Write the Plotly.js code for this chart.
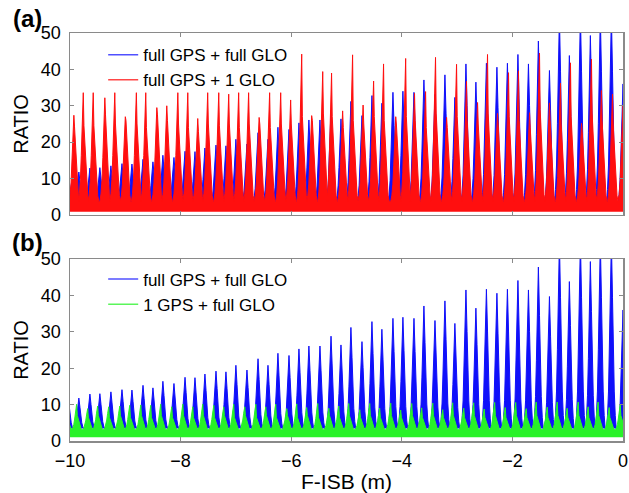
<!DOCTYPE html>
<html>
<head>
<meta charset="utf-8">
<script src="https://cdn.plot.ly/plotly-3.0.1.min.js"></script>
<style>html,body{margin:0;padding:0;background:#fff;}#chart{width:629px;height:493px;}</style>
</head>
<body>
<div id="chart"></div>
<script>
// ---- data ----
const seriesNames = ["full GPS + full GLO", "full GPS + 1 GLO", "1 GPS + full GLO"];
const xTickVals = [-10, -8, -6, -4, -2, 0];
const yTickVals = [0, 10, 20, 30, 40, 50];

// peak positions (F-ISB, m) and peak RATIO for "full GPS + full GLO"
const blueX = [-10.03,
 -9.84,-9.64,-9.46,-9.26,-9.06,-8.88,-8.68,-8.50,-8.32,-8.12,
 -7.92,-7.74,-7.56,-7.36,-7.18,-7.00,-6.80,-6.60,-6.42,-6.24,
 -6.04,-5.86,-5.68,-5.48,-5.28,-5.10,-4.92,-4.72,-4.54,-4.36,
 -4.16,-3.98,-3.78,-3.60,-3.40,-3.22,-3.04,-2.84,-2.66,-2.47,
 -2.28,-2.09,-1.90,-1.71,-1.53,-1.33,-1.15,-0.97,-0.77,-0.59,
 -0.41,-0.21, 0.0];
const blueY = [11.5,
 11.8,12.9,13.0,13.5,14.1,14.0,15.3,14.6,16.4,15.8,
 17.5,17.4,18.4,19.2,19.0,20.8,19.5,22.6,20.8,24.1,
 23.5,25.3,26.1,26.1,28.8,26.4,31.2,27.3,32.8,30.7,
 33.7,34.0,33.7,37.1,33.1,38.5,32.3,41.5,36.5,41.7,
 40.6,41.7,44.1,41.5,47.8,39.7,55,43.8,55,49.3,
 55,55, 36];

// peak positions and peak / shoulder RATIO for "full GPS + 1 GLO"
const redX = [-9.93,
 -9.76,-9.58,-9.37,-9.19,-9.00,-8.80,-8.63,-8.43,-8.25,-8.05,
 -7.87,-7.69,-7.51,-7.31,-7.13,-6.95,-6.77,-6.58,-6.39,-6.19,
 -6.01,-5.81,-5.63,-5.43,-5.27,-5.07,-4.89,-4.70,-4.51,-4.33,
 -4.11,-3.93,-3.77,-3.57,-3.39,-3.19,-3.01,-2.83,-2.63,-2.45,
 -2.27,-2.07,-1.89,-1.69,-1.51,-1.33,-1.13,-0.95,-0.75,-0.57,
 -0.39,-0.19, 0.0];
const redY = [27.4,
 33.6,33.6,32.2,33.6,27.0,33.6,33.6,29.5,30.0,33.6,
 33.6,26.5,33.6,33.6,33.2,33.6,33.6,26.8,33.6,33.6,
 31.6,44.2,27.3,39.4,39.0,28.6,44.0,30.2,36.8,41.5,
 27.0,43.0,33.4,33.9,43.3,26.8,41.4,36.7,30.9,44.1,
 27.9,39.1,39.6,28.1,44.5,30.8,36.2,41.8,25.2,42.8,
 34.2,33.2, 30];
const redShoulder = [24.2,
 24.5,24.5,27.5,25,26,25,24,27.5,26,25,
 24,23,25,24.5,25,24,25,25,24,25,
 25,27,26,28,27,24,26,25,27,26,
 25,27,26,24,28,24,27,26,25,28,
 25,27,26,24,29,26,25,27,23,28,
 26,25, 26];

// peak positions and peak / shoulder RATIO for "1 GPS + full GLO"
const greenX = [-10.06,
 -9.88,-9.68,-9.50,-9.30,-9.10,-8.92,-8.72,-8.54,-8.36,-8.16,
 -7.96,-7.78,-7.60,-7.40,-7.22,-7.04,-6.84,-6.64,-6.46,-6.28,
 -6.08,-5.90,-5.72,-5.52,-5.32,-5.14,-4.96,-4.76,-4.58,-4.40,
 -4.20,-4.02,-3.82,-3.64,-3.44,-3.26,-3.08,-2.88,-2.70,-2.51,
 -2.32,-2.13,-1.94,-1.75,-1.57,-1.37,-1.19,-1.01,-0.81,-0.63,
 -0.45,-0.25,-0.05];
const greenY = [8,
 10.1,8.9,9.6,9.4,9.6,9.8,9.9,9.8,10.1,9.4,
 10.1,9.4,10.1,9.8,9.4,10.1,9.4,10.1,9.4,10.1,
 8.9,10.2,9.2,10.3,9.0,9.6,10.3,8.6,10.3,9.0,
 10.4,8.5,10.3,9.1,10.4,8.6,10.5,9.0,10.5,8.8,
 10.6,9.2,10.6,8.9,10.7,9.3,10.7,9.0,10.7,9.4,
 10.7,9.2, 10.0];
const greenShoulder = [6,
 7,6.5,7,6.5,7,6.5,7,6.5,7,6.5,
 7,6.5,7,6.5,7,6.5,7,6.5,7,6.5,
 7,6.5,7,6.5,7,6.5,7,6.5,7,6.5,
 7,6.5,7,6.5,7,6.5,7,6.5,7,6.5,
 7,6.5,7,6.5,7,6.5,7,6.5,7,6.5,
 7,6.5, 7];

// floor levels of the dense noise bands
const redFloor = 0.9, redValley = 3.8;
const blueValley = 3.4;
const greenFloor = 1.0, greenValley = 3.1;

// ---- drawing helpers (shape of one spike) ----
const flank = [[0.088,0],[0.07,0.07],[0.052,0.2],[0.036,0.42],[0.02,0.7]];
function spikes(xs, peaks, shoulders, valley) {
  const X = [], Y = [];
  for (let i = 0; i < xs.length; i++) {
    const c = xs[i], m = peaks[i];
    const s = shoulders ? shoulders[i] : m;
    for (const [o, f] of flank) { X.push(c - o); Y.push(valley + f * (m - valley)); }
    X.push(c); Y.push(m);
    let c2 = c;
    if (shoulders) { c2 = c + 0.012; X.push(c2); Y.push(s); }
    for (let k = flank.length - 1; k >= 0; k--) {
      const [o, f] = flank[k];
      X.push(c2 + o); Y.push(valley + f * (s - valley));
    }
  }
  return {X, Y};
}

const BLUE = 'rgb(15,15,250)', RED = 'rgb(255,15,15)', GREEN = 'rgb(40,242,40)';
const bA = spikes(blueX, blueY, null, blueValley);
const rA = spikes(redX, redY, redShoulder, redValley);
const gB = spikes(greenX, greenY, greenShoulder, greenValley);

function floorTrace(level, xa, ya) {
  return {x: [xTickVals[0], xTickVals[xTickVals.length - 1]], y: [level, level], xaxis: xa, yaxis: ya,
    mode: 'lines', line: {width: 0}, hoverinfo: 'skip', showlegend: false};
}
function fillTrace(d, color, xa, ya) {
  return {x: d.X, y: d.Y, xaxis: xa, yaxis: ya, mode: 'lines', fill: 'tonexty', fillcolor: color,
    line: {color: color, width: 1}, hoverinfo: 'skip', showlegend: false};
}
function legendTrace(name, color, xa, ya, lg, grp) {
  return {x: [null], y: [null], xaxis: xa, yaxis: ya, mode: 'lines', name: name,
    line: {color: color, width: 1.5}, legend: lg, legendgroup: grp, showlegend: true};
}

const data = [
  floorTrace(blueValley, 'x', 'y'),
  fillTrace(bA, BLUE, 'x', 'y'),
  floorTrace(redFloor, 'x', 'y'),
  fillTrace(rA, RED, 'x', 'y'),
  floorTrace(blueValley, 'x2', 'y2'),
  fillTrace(bA, BLUE, 'x2', 'y2'),
  floorTrace(greenFloor, 'x2', 'y2'),
  fillTrace(gB, GREEN, 'x2', 'y2'),
  legendTrace(seriesNames[0], 'rgb(80,80,255)', 'x', 'y', 'legend', 'a1'),
  legendTrace(seriesNames[1], 'rgb(255,70,70)', 'x', 'y', 'legend', 'a2'),
  legendTrace(seriesNames[0], 'rgb(80,80,255)', 'x2', 'y2', 'legend2', 'b1'),
  legendTrace(seriesNames[2], 'rgb(90,245,90)', 'x2', 'y2', 'legend2', 'b2')
];

const axCommon = {showline: true, linecolor: '#8a8a8a', linewidth: 1.5, mirror: 'ticks',
  ticks: 'inside', ticklen: 4, tickcolor: '#8a8a8a', showgrid: false, zeroline: false,
  tickfont: {size: 18, color: '#000'}};

const layout = {
  width: 629, height: 493,
  margin: {l: 70, r: 6, t: 33, b: 52},
  paper_bgcolor: '#fff', plot_bgcolor: '#fff',
  font: {family: 'Liberation Sans, Arial, sans-serif', size: 17, color: '#000'},
  showlegend: true,
  xaxis: Object.assign({}, axCommon, {domain: [0, 1], range: [-10, 0], anchor: 'y',
    tickvals: xTickVals, showticklabels: false}),
  yaxis: Object.assign({}, axCommon, {domain: [0.554, 1], range: [0, 50], anchor: 'x',
    tickvals: yTickVals, ticklabelstandoff: 4,
    title: {text: 'RATIO', font: {size: 20}, standoff: 7}}),
  xaxis2: Object.assign({}, axCommon, {domain: [0, 1], range: [-10, 0], anchor: 'y2',
    tickvals: xTickVals, ticklabelstandoff: 3,
    title: {text: 'F-ISB (m)', font: {size: 21}, standoff: 1}}),
  yaxis2: Object.assign({}, axCommon, {domain: [0, 0.446], range: [0, 50], anchor: 'x2',
    tickvals: yTickVals, ticklabelstandoff: 4,
    title: {text: 'RATIO', font: {size: 20}, standoff: 7}}),
  legend: {x: 0.06, y: 0.99, xref: 'paper', yref: 'paper', xanchor: 'left', yanchor: 'top',
    bgcolor: 'rgba(0,0,0,0)', font: {size: 17}, tracegroupgap: 2, traceorder: 'normal'},
  legend2: {x: 0.06, y: 0.44, xref: 'paper', yref: 'paper', xanchor: 'left', yanchor: 'top',
    bgcolor: 'rgba(0,0,0,0)', font: {size: 17}, tracegroupgap: 2, traceorder: 'normal'},
  annotations: [
    {text: '<b>(a)</b>', xref: 'paper', yref: 'paper', x: -0.076, y: 1.035, showarrow: false,
      font: {size: 24}, xanchor: 'center', yanchor: 'middle'},
    {text: '<b>(b)</b>', xref: 'paper', yref: 'paper', x: -0.076, y: 0.486, showarrow: false,
      font: {size: 24}, xanchor: 'center', yanchor: 'middle'}
  ]
};

Plotly.newPlot('chart', data, layout, {displayModeBar: false, staticPlot: true});
</script>
</body>
</html>
